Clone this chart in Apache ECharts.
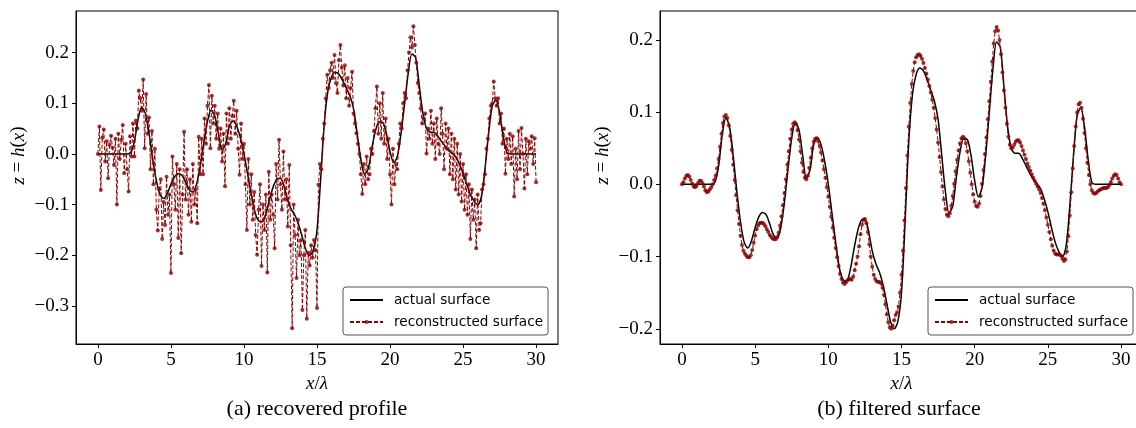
<!DOCTYPE html>
<html>
<head>
<meta charset="utf-8">
<script src="https://cdn.jsdelivr.net/npm/echarts@6/dist/echarts.min.js"></script>
<style>
  html, body { margin: 0; padding: 0; background: #fff; }
  #chart { width: 1136px; height: 428px; }
</style>
</head>
<body>
<div id="chart"></div>
<script>
// sampling positions x/lambda
const xCoarse = Array.from({ length: 121 }, (_, i) => +(i * 0.25).toFixed(2))
const xFine = Array.from({ length: 301 }, (_, i) => +(i * 0.1).toFixed(1))

// actual surface, read every 0.25
const actualSurface = [
  0, 0, 0, 0,
  0, 0, 0, 0,
  0, 0.003, 0.025, 0.068,
  0.092, 0.080, 0.040, -0.010,
  -0.052, -0.080, -0.088, -0.078,
  -0.060, -0.045, -0.039, -0.042,
  -0.055, -0.070, -0.075, -0.060,
  -0.025, 0.022, 0.064, 0.086,
  0.075, 0.040, 0.008, 0.020,
  0.055, 0.065, 0.055, 0.032,
  0.000, -0.040, -0.080, -0.115,
  -0.132, -0.134, -0.118, -0.090,
  -0.065, -0.050, -0.048, -0.065,
  -0.092, -0.110, -0.122, -0.140,
  -0.165, -0.190, -0.200, -0.190,
  -0.150, -0.050, 0.060, 0.125,
  0.152, 0.161, 0.157, 0.145,
  0.130, 0.115, 0.090, 0.040,
  -0.010, -0.040, -0.030, 0.010,
  0.045, 0.063, 0.062, 0.040,
  0.005, -0.017, -0.005, 0.040,
  0.100, 0.160, 0.197, 0.190,
  0.135, 0.080, 0.050, 0.043,
  0.043, 0.036, 0.026, 0.016,
  0.007, 0.001, -0.006, -0.020,
  -0.038, -0.060, -0.080, -0.093,
  -0.100, -0.085, -0.030, 0.040,
  0.095, 0.106, 0.080, 0.035,
  0.003, 0, 0, 0,
  0, 0, 0, 0,
  0
]

// (a) reconstructed surface before filtering, every 0.1
const recoveredProfile = [
  0.000, 0.054, -0.071, 0.032, 0.048, -0.015, 0.025, -0.048, 0.018, 0.036,
  0.012, -0.022, 0.030, -0.100, 0.040, -0.010, 0.028, 0.057, -0.038, 0.020,
  -0.030, -0.074, 0.035, -0.005, 0.060, -0.005, 0.066, 0.050, 0.125, 0.110,
  0.085, 0.147, 0.011, 0.118, 0.040, 0.072, -0.030, 0.045, -0.060, 0.010,
  -0.110, -0.151, -0.070, -0.050, -0.168, -0.095, -0.140, -0.045, -0.120, -0.080,
  -0.235, -0.005, -0.060, -0.110, -0.020, -0.166, -0.030, -0.196, -0.080, 0.044,
  -0.090, -0.030, -0.120, -0.050, -0.134, -0.020, -0.100, -0.070, -0.137, 0.034,
  -0.040, 0.030, -0.040, 0.070, 0.020, 0.095, 0.136, 0.011, 0.115, 0.060,
  0.095, 0.030, 0.080, 0.010, 0.050, -0.015, 0.040, -0.064, 0.080, 0.020,
  0.090, 0.030, 0.075, 0.105, 0.040, 0.085, 0.010, -0.041, 0.060, -0.010,
  0.020, -0.060, -0.150, -0.010, -0.100, -0.040, -0.130, -0.075, -0.160, -0.199,
  -0.110, -0.060, -0.221, -0.100, -0.150, -0.080, -0.234, -0.035, -0.130, -0.080,
  -0.120, -0.186, -0.020, -0.090, 0.028, -0.060, -0.110, 0.005, -0.090, -0.050,
  -0.143, -0.022, -0.180, -0.344, -0.100, -0.160, -0.245, -0.130, -0.200, -0.170,
  -0.308, -0.200, -0.150, -0.325, -0.195, -0.220, -0.180, -0.205, -0.170, -0.190,
  -0.304, -0.061, -0.020, -0.030, 0.030, 0.060, 0.110, 0.156, 0.130, 0.165,
  0.180, 0.150, 0.195, 0.140, 0.120, 0.185, 0.215, 0.170, 0.135, 0.175,
  0.110, 0.150, 0.095, 0.130, 0.162, 0.080, 0.060, 0.041, 0.020, 0.000,
  -0.040, -0.079, -0.020, -0.060, -0.005, -0.050, -0.040, 0.010, 0.000, 0.045,
  0.090, 0.133, 0.040, 0.100, 0.030, 0.120, 0.020, 0.070, -0.010, 0.030,
  -0.040, -0.100, 0.010, -0.060, -0.020, -0.030, 0.020, 0.060, 0.050, 0.100,
  0.120, 0.110, 0.165, 0.200, 0.230, 0.210, 0.252, 0.215, 0.180, 0.140,
  0.120, 0.090, 0.060, 0.070, 0.080, 0.001, 0.050, 0.030, 0.085, 0.020,
  0.060, -0.010, 0.070, 0.020, 0.000, 0.090, 0.040, -0.030, 0.060, 0.010,
  0.050, -0.040, 0.040, -0.050, 0.030, -0.070, 0.020, -0.080, 0.000, -0.094,
  -0.020, -0.110, -0.040, -0.120, -0.060, -0.168, -0.070, -0.130, -0.090, -0.186,
  -0.080, -0.150, -0.137, -0.070, -0.060, -0.040, 0.010, 0.030, 0.070, 0.095,
  0.100, 0.143, 0.110, 0.095, 0.110, 0.060, 0.080, 0.020, 0.050, -0.039,
  0.030, -0.010, 0.040, -0.020, 0.035, -0.084, 0.010, -0.050, 0.045, -0.030,
  0.051, 0.000, -0.068, 0.030, -0.040, 0.025, 0.010, 0.035, -0.020, 0.031,
  -0.056
]

// (b) reconstructed surface after filtering, every 0.1
const filteredSurface = [
  0.000, 0.003, 0.008, 0.012, 0.013, 0.011, 0.006, 0.001, -0.003, -0.004,
  -0.002, 0.002, 0.005, 0.005, 0.002, -0.003, -0.008, -0.011, -0.010, -0.007,
  -0.004, 0.000, 0.006, 0.012, 0.022, 0.035, 0.052, 0.070, 0.085, 0.094,
  0.096, 0.092, 0.082, 0.067, 0.048, 0.027, 0.006, -0.015, -0.036, -0.055,
  -0.071, -0.084, -0.092, -0.096, -0.099, -0.101, -0.101, -0.098, -0.091, -0.081,
  -0.071, -0.062, -0.057, -0.054, -0.053, -0.053, -0.055, -0.058, -0.062, -0.066,
  -0.070, -0.073, -0.075, -0.076, -0.076, -0.073, -0.067, -0.057, -0.044, -0.029,
  -0.012, 0.007, 0.027, 0.046, 0.063, 0.076, 0.084, 0.086, 0.083, 0.075,
  0.062, 0.046, 0.030, 0.017, 0.009, 0.007, 0.012, 0.023, 0.037, 0.050,
  0.059, 0.063, 0.064, 0.060, 0.053, 0.044, 0.033, 0.021, 0.009, -0.004,
  -0.017, -0.031, -0.045, -0.060, -0.074, -0.088, -0.101, -0.113, -0.124, -0.131,
  -0.136, -0.138, -0.136, -0.133, -0.131, -0.131, -0.132, -0.128, -0.119, -0.110,
  -0.100, -0.086, -0.069, -0.056, -0.049, -0.048, -0.054, -0.066, -0.083, -0.100,
  -0.114, -0.125, -0.131, -0.134, -0.135, -0.135, -0.137, -0.143, -0.153, -0.166,
  -0.180, -0.191, -0.198, -0.200, -0.196, -0.188, -0.181, -0.177, -0.169, -0.150,
  -0.125, -0.092, -0.050, -0.005, 0.040, 0.080, 0.113, 0.139, 0.157, 0.169,
  0.176, 0.179, 0.180, 0.178, 0.174, 0.168, 0.161, 0.153, 0.145, 0.136,
  0.127, 0.117, 0.106, 0.092, 0.076, 0.058, 0.038, 0.017, -0.003, -0.021,
  -0.034, -0.042, -0.044, -0.040, -0.030, -0.016, 0.001, 0.018, 0.034, 0.047,
  0.057, 0.064, 0.066, 0.064, 0.057, 0.046, 0.032, 0.016, 0.000, -0.014,
  -0.024, -0.030, -0.031, -0.027, -0.016, 0.001, 0.020, 0.042, 0.065, 0.090,
  0.115, 0.142, 0.170, 0.195, 0.212, 0.218, 0.213, 0.200, 0.180, 0.155,
  0.130, 0.106, 0.084, 0.066, 0.055, 0.050, 0.051, 0.055, 0.059, 0.061,
  0.061, 0.058, 0.053, 0.047, 0.041, 0.035, 0.029, 0.024, 0.019, 0.014,
  0.009, 0.005, 0.001, -0.003, -0.007, -0.012, -0.019, -0.027, -0.036, -0.046,
  -0.056, -0.066, -0.076, -0.085, -0.092, -0.096, -0.097, -0.097, -0.097, -0.099,
  -0.103, -0.106, -0.104, -0.093, -0.072, -0.043, -0.011, 0.022, 0.053, 0.080,
  0.100, 0.111, 0.113, 0.106, 0.091, 0.071, 0.050, 0.030, 0.013, 0.000,
  -0.008, -0.012, -0.013, -0.012, -0.010, -0.008, -0.007, -0.006, -0.005, -0.005,
  -0.005, -0.004, -0.001, 0.003, 0.008, 0.012, 0.014, 0.013, 0.008, 0.003,
  0.000
]

const xTicks = [0, 5, 10, 15, 20, 25, 30]
const yTicksA = [-0.3, -0.2, -0.1, 0, 0.1, 0.2]
const yTicksB = [-0.2, -0.1, 0, 0.1, 0.2]

const serif = 'Liberation Serif'
const red = '#8b0000'

const fmtY = v => (v < 0 ? '\u2212' : '') + Math.abs(v).toFixed(1)

function makeX(gridIndex) {
  return {
    type: 'value', gridIndex, min: -1.5, max: 31.5,
    name: '{i|x}/{i|\u03bb}', nameLocation: 'middle', nameGap: 24,
    nameTextStyle: { fontFamily: serif, fontSize: 19, color: '#000',
      rich: { i: { fontFamily: serif, fontStyle: 'italic', fontSize: 19, color: '#000' } } },
    axisLine: { show: true, onZero: false, lineStyle: { color: '#000', width: 1 } },
    axisTick: { show: true, length: 4, customValues: xTicks, lineStyle: { color: '#000' } },
    axisLabel: { customValues: xTicks, margin: 7, fontFamily: serif, fontSize: 19, color: '#000' },
    splitLine: { show: false }
  }
}

function makeY(gridIndex, min, max, ticks) {
  return {
    type: 'value', gridIndex, min, max,
    name: '{i|z} = {i|h}({i|x})', nameLocation: 'middle', nameGap: 48,
    nameTextStyle: { fontFamily: serif, fontSize: 19, color: '#000', padding: [0, 0, 0, 44],
      rich: { i: { fontFamily: serif, fontStyle: 'italic', fontSize: 19, color: '#000' } } },
    axisLine: { show: true, onZero: false, lineStyle: { color: '#000', width: 1 } },
    axisTick: { show: true, length: 4, customValues: ticks, lineStyle: { color: '#000' } },
    axisLabel: { customValues: ticks, margin: 7, formatter: fmtY, fontFamily: serif, fontSize: 19, color: '#000' },
    splitLine: { show: false }
  }
}

function actualSeries(i) {
  return {
    name: 'actual surface', type: 'line', xAxisIndex: i, yAxisIndex: i,
    data: actualSurface.map((v, k) => [xCoarse[k], v]),
    smooth: 0.3, symbol: 'none', z: 2,
    lineStyle: { color: '#000', width: 1.5 },
    itemStyle: { color: '#000' }
  }
}

function reconSeries(i, values) {
  return {
    name: 'reconstructed surface', type: 'line', xAxisIndex: i, yAxisIndex: i,
    data: values.map((v, k) => [xFine[k], v]),
    symbol: 'circle', symbolSize: 4, showSymbol: true, z: 3,
    lineStyle: { color: red, width: 1, type: [4, 2] },
    itemStyle: { color: red, opacity: 0.8 }
  }
}

function makeLegend(left) {
  return {
    orient: 'vertical', left, top: 287,
    data: [
      { name: 'actual surface', itemStyle: { opacity: 0 } },
      { name: 'reconstructed surface' }
    ],
    itemWidth: 33, itemHeight: 5, itemGap: 8,
    padding: [6, 5, 6, 6],
    borderColor: '#555', borderWidth: 1, borderRadius: 3,
    backgroundColor: '#fff',
    textStyle: { fontFamily: 'DejaVu Sans', fontSize: 13.6, color: '#000', padding: [0, 0, 0, 6] },
    selectedMode: false
  }
}

const chart = echarts.init(document.getElementById('chart'), null, { renderer: 'canvas' })
chart.setOption({
  animation: false,
  backgroundColor: '#fff',
  grid: [
    { left: 76, top: 11, width: 482, height: 333, show: true, borderColor: '#000', borderWidth: 1, outerBoundsMode: 'none' },
    { left: 660, top: 11, width: 483, height: 333, show: true, borderColor: '#000', borderWidth: 1, outerBoundsMode: 'none' }
  ],
  xAxis: [makeX(0), makeX(1)],
  yAxis: [makeY(0, -0.375, 0.282, yTicksA), makeY(1, -0.221, 0.24, yTicksB)],
  legend: [makeLegend(343), makeLegend(928)],
  series: [
    actualSeries(0), reconSeries(0, recoveredProfile),
    actualSeries(1), reconSeries(1, filteredSurface)
  ],
  graphic: [
    { type: 'text', x: 317, y: 398, style: { text: '(a) recovered profile', textAlign: 'center', font: '22px "Liberation Serif"', fill: '#000' } },
    { type: 'text', x: 899, y: 398, style: { text: '(b) filtered surface', textAlign: 'center', font: '22px "Liberation Serif"', fill: '#000' } }
  ]
})
</script>
</body>
</html>
